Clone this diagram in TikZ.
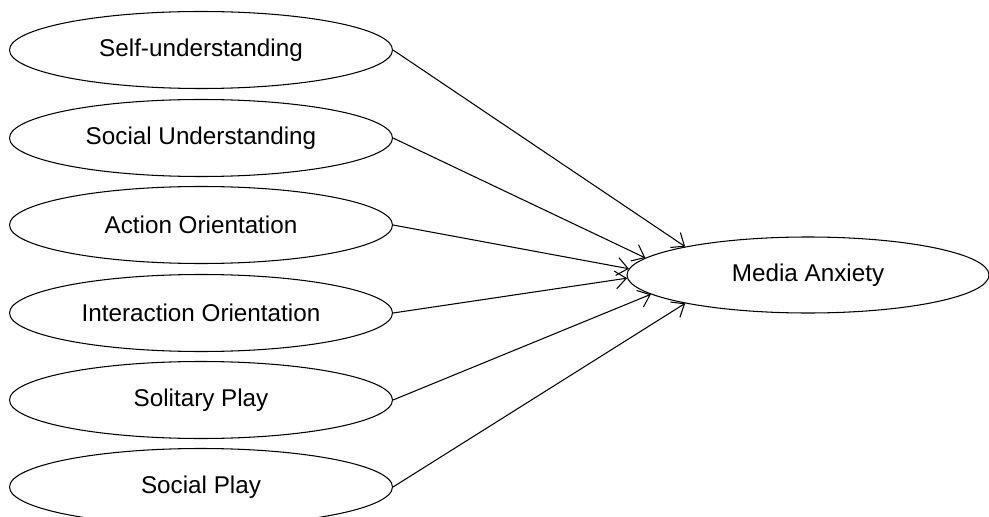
\documentclass[tikz,border=0pt]{standalone}
\usepackage{fontspec}
\setmainfont{Liberation Sans}
\usetikzlibrary{arrows.meta, shapes.geometric}

\begin{document}
\begin{tikzpicture}[
        factor_style/.style={ellipse, draw, line width=0.6pt, minimum width=7.66cm, minimum height=1.54cm, inner sep=0pt, font=\fontsize{13.8}{16}\selectfont},
        outcome_style/.style={factor_style, minimum width=7.24cm, minimum height=1.52cm},
        edge_style/.style={-{Straight Barb[length=2.2mm, width=3.6mm]}, line width=0.6pt}
    ]

    \useasboundingbox (0,0) rectangle (19.78,-10.34);

    % Predictors (left column)
    \node[factor_style] (selfU) at (4.02,-1.00) {Self-understanding};
    \node[factor_style] (socU)  at (4.02,-2.76) {Social Understanding};
    \node[factor_style] (actO)  at (4.02,-4.50) {Action Orientation};
    \node[factor_style] (intO)  at (4.02,-6.26) {Interaction Orientation};
    \node[factor_style] (solP)  at (4.02,-8.00) {Solitary Play};
    \node[factor_style] (socP)  at (4.02,-9.74) {Social Play};

    % Outcome
    \node[outcome_style] (media) at (16.16,-5.50) {Media Anxiety};

    % Edges
    \foreach \u/\a in {selfU/167, socU/174, actO/178.4, intO/181.6, solP/187, socP/193.5} {
            \draw[edge_style] (\u.east) -- (media.\a);
        }

\end{tikzpicture}
\end{document}
